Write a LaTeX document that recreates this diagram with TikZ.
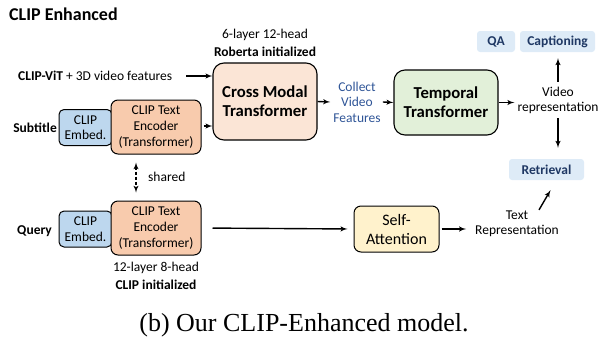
\documentclass[tikz,border=0pt]{standalone}
\usepackage{fontspec}
\setmainfont{Carlito}
\newfontfamily\captionfont{Liberation Serif}
\usepackage{tikz}
\usetikzlibrary{arrows,positioning}
\definecolor{embedblue}{HTML}{BDD7EE}
\definecolor{encorange}{HTML}{F8CBAD}
\definecolor{crosspeach}{HTML}{FBE5D6}
\definecolor{tempgreen}{HTML}{E2F0D9}
\definecolor{attnyellow}{HTML}{FFF2CC}
\definecolor{tasklight}{HTML}{DEEBF7}
\definecolor{taskdark}{HTML}{1F3864}
\definecolor{collectblue}{HTML}{2F5597}
\tikzset{
    %Define standard arrow tip
    >=latex',
    %Define style for boxes
    embed/.style={
           rectangle,
           rounded corners=5pt,
           draw=black, line width=1pt,
           minimum width=53pt,
           minimum height=36pt,
           font=\fontsize{13.5}{15.5}\selectfont,
           align=center,
           fill=embedblue
           },
    encoder/.style={
           rectangle,
           rounded corners=7pt,
           draw=black, line width=1pt,
           minimum width=90pt,
           minimum height=54pt,
           font=\fontsize{13.5}{16}\selectfont,
           align=center,
           fill=encorange
           },
    bigbox/.style={
           rectangle,
           rounded corners=11pt,
           draw=black, line width=1.1pt,
           minimum width=104pt,
           font=\bfseries\fontsize{16.7}{19}\selectfont,
           align=center
           },
    attn/.style={
           rectangle,
           rounded corners=7pt,
           draw=black, line width=1pt,
           minimum width=85pt,
           minimum height=46pt,
           font=\fontsize{16}{19}\selectfont,
           align=center,
           fill=attnyellow
           },
    task/.style={
           rectangle,
           rounded corners=3pt,
           fill=tasklight,
           minimum height=21pt,
           text=taskdark,
           font=\bfseries\fontsize{13.5}{15}\selectfont
           },
    txt/.style={
           inner sep=1pt,
           font=\fontsize{13.5}{15}\selectfont,
           align=center
           },
    % Define arrow style
    pil/.style={
           ->,
           line width=1.4pt}
}
\begin{document}
\begin{tikzpicture}[x=1pt,y=-1pt]
\useasboundingbox (0,0) rectangle (609,343);
\node[txt, anchor=west, font=\bfseries\fontsize{18}{20}\selectfont] (title) at (8,14) {CLIP Enhanced};

% upper branch
\node[bigbox, fill=crosspeach, minimum height=77pt] (cm) at (265,101.5) {Cross Modal\\Transformer};
\node[txt] (cml1) at (265,35) {6-layer 12-head};
\node[txt, font=\bfseries\fontsize{13.5}{15}\selectfont] (cml2) at (265,52) {Roberta initialized};
\node[txt, anchor=west] (vit) at (17,76) {\textbf{CLIP-ViT} + 3D video features};
\node[embed] (emb1) at (85.5,127.5) {CLIP\\Embed.};
\node[encoder] (enc1) at (156,127) {CLIP Text\\Encoder\\(Transformer)};
\node[txt, anchor=east, font=\bfseries\fontsize{13.5}{15}\selectfont] (sub) at (58,128) {Subtitle};
\node[txt, text=collectblue, font=\fontsize{13.5}{15.5}\selectfont] (collect) at (357,102) {Collect\\Video\\Features};
\node[bigbox, fill=tempgreen, minimum height=65pt] (temp) at (446,102.5) {Temporal\\Transformer};
\node[txt] (vrep) at (558,100) {Video\\representation};
\node[task, minimum width=38pt] (qa) at (496,41.5) {QA};
\node[task, minimum width=75pt] (cap) at (557.5,41.5) {Captioning};
\node[task, minimum width=75pt] (ret) at (546.5,169.5) {Retrieval};

% lower branch
\node[embed] (emb2) at (85.5,229) {CLIP\\Embed.};
\node[encoder] (enc2) at (156,228) {CLIP Text\\Encoder\\(Transformer)};
\node[txt, anchor=east, font=\bfseries\fontsize{13.5}{15}\selectfont] (query) at (53,231) {Query};
\node[txt] (encl1) at (156,268) {12-layer 8-head};
\node[txt, font=\bfseries\fontsize{13.5}{15}\selectfont] (encl2) at (156,285) {CLIP initialized};
\node[txt, anchor=west] (shared) at (147,177) {shared};
\node[attn] (sa) at (396.5,229) {Self-\\Attention};
\node[txt] (trep) at (517,224) {Text\\Representation};

\node[font=\captionfont\fontsize{26}{30}\selectfont, inner sep=0pt] (caption) at (304,325) {(b) Our CLIP-Enhanced model.};

% connectors
\draw[pil, shorten <=13pt] (vit.east) -- (cm.west |- vit.east);
\draw[pil, shorten <=2pt] (enc1.east |- 0,126) -- (cm.west |- 0,126);
\draw[pil] (cm.east) -- ([xshift=-2pt]collect.west);
\draw[pil] ([xshift=1pt]collect.east) -- (temp.west);
\draw[pil] (temp.east) -- ([xshift=-2pt]vrep.west |- temp.east);
\draw[pil] ([yshift=4pt]vrep.north) -- ([yshift=-6pt]vrep.north |- cap.south);
\draw[pil] ([yshift=-4pt]vrep.south) -- ([yshift=11pt]vrep.south |- ret.north);
\draw[pil, <->, dash pattern=on 3pt off 2pt, line width=1.3pt] ([xshift=-20pt,yshift=-8pt]enc1.south) -- ([xshift=-20pt,yshift=8pt]enc2.north);
\draw[pil, shorten <=11pt, shorten >=6pt] (enc2.east) -- (sa.west);
\draw[pil, shorten <=2pt] (sa.east) -- ([xshift=-8pt]trep.west |- sa.east);
\draw[pil] ([xshift=22pt,yshift=0pt]trep.north) -- ([xshift=4pt,yshift=-10pt]ret.south);
\end{tikzpicture}
\end{document}
